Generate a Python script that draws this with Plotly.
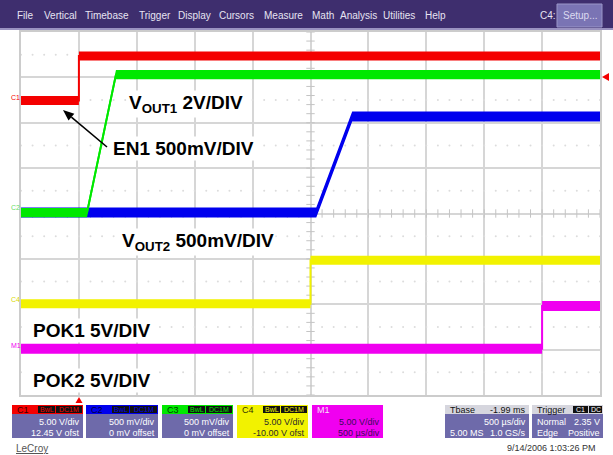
import math
import plotly.graph_objects as go

W, H = 613, 455
FONT = "Liberation Sans, Arial, sans-serif"

# Screen grid in pixels (10 x 8 divisions)
GRID_L, GRID_R, GRID_T, GRID_B = 21, 600, 32, 395

# Time axis in ms (500 us/div, trigger one division from the left edge)
T_RANGE = [-0.5, 4.5]
# Vertical axis in screen divisions
DIV_RANGE = [-4, 4]

# Waveforms: time (ms) and screen position (div)
en1_t = [-0.5, 0.0, 0.0, 4.5]
en1_v = [2.49, 2.49, 3.47, 3.47]
vout1_t = [-0.5, 0.07, 0.32, 4.5]
vout1_v = [0.02, 0.02, 3.06, 3.06]
vout2_t = [-0.5, 2.05, 2.36, 4.5]
vout2_v = [0.02, 0.02, 2.14, 2.14]
pok1_t = [-0.5, 2.0, 2.0, 4.5]
pok1_v = [-1.99, -1.99, -1.03, -1.03]
pok2_t = [-0.5, 4.0, 4.0, 4.5]
pok2_v = [-2.98, -2.98, -2.04, -2.04]

RED, GREEN, BLUE = "#f40000", "#00e800", "#0000ee"
YELLOW, MAGENTA = "#f2f200", "#f000f0"

MENU_ITEMS = ["File", "Vertical", "Timebase", "Trigger", "Display", "Cursors",
              "Measure", "Math", "Analysis", "Utilities", "Help"]
MENU_X = [15, 42, 83, 137, 176, 217, 262, 310, 338, 381, 423]


def fx(x):
    return x / W


def fy(y):
    return 1 - y / H


fig = go.Figure()


def add_wave(t, v, color, half=0.1):
    lo = [a - half for a in v]
    hi = [a + half for a in v]
    fig.add_trace(go.Scatter(x=t, y=lo, mode="lines", line=dict(width=0, color=color),
                             hoverinfo="skip", showlegend=False))
    fig.add_trace(go.Scatter(x=t, y=hi, mode="lines", line=dict(width=0, color=color),
                             fill="tonexty", fillcolor=color, hoverinfo="skip", showlegend=False))
    fig.add_trace(go.Scatter(x=t, y=v, mode="lines", line=dict(width=2, color=color),
                             showlegend=False))


# graticule details: minor ticks on the centre axes and dotted half-division rows
cx_ticks = [T_RANGE[0] + i * 0.1 for i in range(51)]
cy_ticks = [DIV_RANGE[0] + i * 0.2 for i in range(41)]
fig.add_trace(go.Scatter(x=cx_ticks, y=[0] * len(cx_ticks), mode="markers",
                         marker=dict(symbol="line-ns", size=6, line=dict(width=1, color="#c4c4c4")),
                         hoverinfo="skip", showlegend=False))
fig.add_trace(go.Scatter(x=[2.0] * len(cy_ticks), y=cy_ticks, mode="markers",
                         marker=dict(symbol="line-ew", size=6, line=dict(width=1, color="#c4c4c4")),
                         hoverinfo="skip", showlegend=False))
dot_x, dot_y = [], []
for r in [-3.5, -2.5, -1.5, -0.5, 0.5, 1.5, 2.5, 3.5]:
    for i in range(51):
        dot_x.append(T_RANGE[0] + i * 0.1)
        dot_y.append(r)
fig.add_trace(go.Scatter(x=dot_x, y=dot_y, mode="markers",
                         marker=dict(size=2, color="#dcdcdc"), hoverinfo="skip", showlegend=False))

add_wave(vout2_t, vout2_v, BLUE, 0.11)
add_wave(vout1_t, vout1_v, GREEN, 0.1)
add_wave(en1_t, en1_v, RED, 0.1)
add_wave(pok1_t, pok1_v, YELLOW, 0.1)
add_wave(pok2_t, pok2_v, MAGENTA, 0.11)

shapes = []
ann = []


def rect(x0, y0, x1, y1, fill, line=None, lw=0):
    shapes.append(dict(type="rect", xref="paper", yref="paper",
                       x0=fx(x0), x1=fx(x1), y0=fy(y1), y1=fy(y0),
                       fillcolor=fill, line=dict(width=lw, color=line or fill), layer="above"))


def poly(points, fill):
    path = "M " + " L ".join(f"{fx(x)} {fy(y)}" for x, y in points) + " Z"
    shapes.append(dict(type="path", xref="paper", yref="paper", path=path,
                       fillcolor=fill, line=dict(width=0), layer="above"))


def text(x, y, s, color="#ffffff", size=9, anchor="left", bold=False):
    if bold:
        s = "<b>" + s + "</b>"
    ann.append(dict(x=fx(x), y=fy(y), xref="paper", yref="paper", text=s, showarrow=False,
                    xanchor=anchor, yanchor="middle",
                    font=dict(family=FONT, size=size, color=color)))


# menu bar
rect(0, 0, W, 28, "#3e2e6e")
rect(0, 28, W, 30, "#9a92c0")
for name, x in zip(MENU_ITEMS, MENU_X):
    text(x, 16, name, "#e6e4f2", 10)
text(538, 16, "C4:", "#e6e4f2", 10)
rect(557, 4, 602, 27, "#7a74b4", "#9a96c8", 1)
text(579.5, 15.5, "Setup...", "#dcdaf0", 10, "center")

# channel markers at the left edge of the grid
text(9, 97, "C1", RED, 7)
text(9, 208, "C2", "#66dd66", 7)
text(9, 299, "C4", "#d8d800", 7)
text(9, 345, "M1", MAGENTA, 7)

# trigger markers
poly([(79, 397), (75.5, 403), (82.5, 403)], RED)
poly([(602, 77), (609, 73), (609, 81)], RED)

# waveform labels
LBL = 19
for x, y, s in [(186, 104, "V<sub>OUT1</sub> 2V/DIV"),
                (183.5, 148.5, "EN1 500mV/DIV"),
                (198.5, 242, "V<sub>OUT2</sub> 500mV/DIV"),
                (91.5, 330, "POK1 5V/DIV"),
                (92, 380, "POK2 5V/DIV")]:
    ann.append(dict(x=fx(x), y=fy(y), xref="paper", yref="paper", text="<b>" + s + "</b>",
                    showarrow=False, xanchor="center", yanchor="middle", bgcolor="#ffffff",
                    borderpad=1, font=dict(family=FONT, size=LBL, color="#000000")))

# pointer from the EN1 label to the red trace
tip = (63, 110)
tail = (107, 147)
ang = math.atan2(tail[1] - tip[1], tail[0] - tip[0])
hl, hw = 11, 4.5
bx, by = tip[0] + hl * math.cos(ang), tip[1] + hl * math.sin(ang)
shapes.append(dict(type="line", xref="paper", yref="paper",
                   x0=fx(bx), y0=fy(by), x1=fx(tail[0]), y1=fy(tail[1]),
                   line=dict(width=1.6, color="#000000"), layer="above"))
poly([tip,
      (bx - hw * math.sin(ang), by + hw * math.cos(ang)),
      (bx + hw * math.sin(ang), by - hw * math.cos(ang))], "#000000")

# status panel
BODY = "#6e6aaa"
HDR_T, HDR_B, BOX_B = 405, 414, 438
ROW1, ROW2, HROW = 422, 433, 409.5


def tag(x0, x1, s, color):
    rect(x0, HDR_T + 1, x1, HDR_B - 1, "#111111")
    text((x0 + x1) / 2, HROW, s, color, 7, "center")


chans = [(12, 83, "C1", RED, "#3a0000", "5.00 V/div", "12.45 V ofst"),
         (86, 158, "C2", BLUE, "#00003a", "500 mV/div", "0 mV offset"),
         (162, 233, "C3", GREEN, "#003a00", "500 mV/div", "0 mV offset")]
for x0, x1, name, col, dark, r1, r2 in chans:
    rect(x0, HDR_T, x1, BOX_B, BODY)
    rect(x0, HDR_T, x1, HDR_B, col)
    text(x0 + 3, HROW, name, dark, 9)
    tag(x0 + 26, x0 + 43, "BwL", col)
    tag(x0 + 44, x1 - 1, "DC1M", col)
    text(x1 - 1, ROW1, r1, "#ffffff", 9, "right")
    text(x1 - 1, ROW2, r2, "#ffffff", 9, "right")

rect(237, HDR_T, 308, BOX_B, YELLOW)
text(240, HROW, "C4", "#333300", 9)
tag(263, 280, "BwL", YELLOW)
tag(281, 307, "DC1M", YELLOW)
text(307, ROW1, "5.00 V/div", "#2a2a2a", 9, "right")
text(307, ROW2, "-10.00 V ofst", "#2a2a2a", 9, "right")

rect(312, HDR_T, 383, BOX_B, MAGENTA)
text(315, HROW, "M1", "#f8e0f8", 9)
text(382, ROW1, "5.00 V/div", "#3a0a5a", 9, "right")
text(382, ROW2, "500 µs/div", "#3a0a5a", 9, "right")

rect(445, HDR_T, 529, BOX_B, BODY)
rect(445, HDR_T, 529, HDR_B, "#d6d6de")
text(448, HROW, "Tbase", "#111111", 9)
text(528, HROW, "-1.99 ms", "#111111", 9, "right")
text(528, ROW1, "500 µs/div", "#ffffff", 9, "right")
text(448, ROW2, "5.00 MS", "#ffffff", 9)
text(528, ROW2, "1.0 GS/s", "#ffffff", 9, "right")

rect(532, HDR_T, 603, BOX_B, BODY)
rect(532, HDR_T, 603, HDR_B, "#d6d6de")
text(535, HROW, "Trigger", "#111111", 9)
tag(573, 588, "C1", "#ffffff")
tag(589, 602, "DC", "#ffffff")
text(535, ROW1, "Normal", "#ffffff", 9)
text(602, ROW1, "2.35 V", "#ffffff", 9, "right")
text(535, ROW2, "Edge", "#ffffff", 9)
text(602, ROW2, "Positive", "#ffffff", 9, "right")

text(14, 448, "<u>LeCroy</u>", "#555555", 10)
text(598, 448, "9/14/2006 1:03:26 PM", "#333333", 9, "right")

fig.update_layout(
    width=W, height=H, margin=dict(l=0, r=0, t=0, b=0),
    paper_bgcolor="#ffffff", plot_bgcolor="#ffffff", showlegend=False,
    xaxis=dict(domain=[fx(GRID_L), fx(GRID_R)], range=T_RANGE, dtick=0.5, tick0=-0.5,
               showgrid=True, gridcolor="#d6d6d6", gridwidth=1.5, zeroline=False,
               showticklabels=False, ticks="", showline=True, mirror=True,
               linecolor="#cccccc", linewidth=1.5, fixedrange=True),
    yaxis=dict(domain=[fy(GRID_B), fy(GRID_T)], range=DIV_RANGE, dtick=1,
               showgrid=True, gridcolor="#d6d6d6", gridwidth=1.5, zeroline=False,
               showticklabels=False, ticks="", showline=True, mirror=True,
               linecolor="#cccccc", linewidth=1.5, fixedrange=True),
    shapes=shapes, annotations=ann,
)

fig.write_html("out.html")
